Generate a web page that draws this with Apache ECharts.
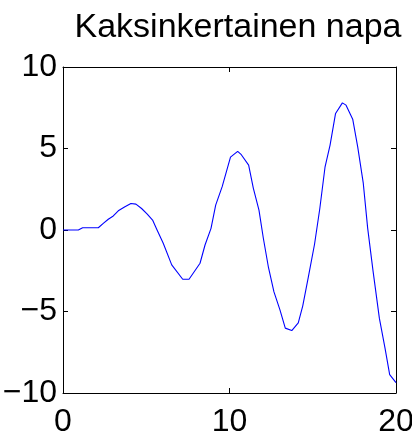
<!DOCTYPE html>
<html>
<head>
<meta charset="utf-8">
<script src="https://cdn.jsdelivr.net/npm/echarts@6/dist/echarts.min.js"></script>
<style>
html,body{margin:0;padding:0;background:#fff;}
#c{width:412px;height:434px;}
</style>
</head>
<body>
<div id="c"></div>
<script>
var titleText = 'Kaksinkertainen napa';
var xTicks = [0, 10, 20];
var yTicks = [-10, -5, 0, 5, 10];
var xs = [0, 0.92, 1.18, 2.12, 2.42, 2.72, 3.02, 3.32, 3.72, 4.08, 4.38, 4.72, 5.06, 5.38, 5.65, 6.02, 6.53, 7.19, 7.57, 8.23, 8.53, 8.89, 9.17, 9.56, 10.06, 10.49, 10.71, 11.15, 11.43, 11.77, 12.03, 12.33, 12.67, 13.03, 13.35, 13.74, 14.13, 14.40, 14.74, 15.11, 15.42, 15.74, 16.04, 16.37, 16.78, 17.0, 17.40, 17.70, 18.03, 18.30, 18.62, 19.0, 19.34, 19.62, 20.0];
var ys = [0, 0, 0.14, 0.14, 0.41, 0.66, 0.86, 1.18, 1.43, 1.63, 1.59, 1.32, 0.98, 0.61, 0, -0.81, -2.14, -3.02, -3.02, -2.04, -0.92, 0.10, 1.53, 2.66, 4.47, 4.82, 4.62, 3.98, 2.57, 1.22, -0.49, -2.24, -3.80, -4.90, -6.02, -6.17, -5.70, -4.65, -2.86, -0.86, 1.29, 3.88, 5.21, 7.15, 7.80, 7.66, 6.80, 5.10, 2.91, 0.10, -2.51, -5.41, -7.25, -8.87, -9.36];

var pts = xs.map(function (x, i) { return [x, ys[i]]; });
var FONT = 'Liberation Sans, Arial, sans-serif';

function axisCommon(showLabel, pos, isX) {
  var t = isX ? xTicks : yTicks;
  return {
    type: 'value',
    position: pos,
    min: t[0],
    max: t[t.length - 1],
    interval: t[1] - t[0],
    splitLine: { show: false },
    axisLine: { show: true, onZero: false, lineStyle: { color: '#000', width: 1 } },
    axisTick: { show: true, inside: true, length: 5, lineStyle: { color: '#000', width: 1 } },
    axisLabel: {
      show: showLabel,
      color: '#000',
      fontFamily: FONT,
      fontSize: 32,
      margin: isX ? 13 : 6,
      padding: isX ? 0 : [0, 0, 2, 0],
      hideOverlap: false,
      showMinLabel: true,
      showMaxLabel: true,
      formatter: function (v) { return String(v).replace('-', '\u2212'); }
    }
  };
}

var chart = echarts.init(document.getElementById('c'), null, { renderer: 'canvas' });
chart.setOption({
  animation: false,
  backgroundColor: '#fff',
  title: {
    text: titleText,
    left: 233,
    textAlign: 'center',
    top: 6,
    textStyle: { color: '#000', fontFamily: FONT, fontWeight: 'normal', fontSize: 34 }
  },
  grid: { left: 63, top: 67, width: 333, height: 326, containLabel: false, outerBoundsMode: 'none' },
  xAxis: [axisCommon(true, 'bottom', true), axisCommon(false, 'top', true)],
  yAxis: [axisCommon(true, 'left', false), axisCommon(false, 'right', false)],
  series: [{
    type: 'line',
    data: pts,
    xAxisIndex: 0,
    yAxisIndex: 0,
    showSymbol: false,
    smooth: false,
    lineStyle: { color: '#0000ff', width: 1.1 },
    clip: true
  }]
});
</script>
</body>
</html>
